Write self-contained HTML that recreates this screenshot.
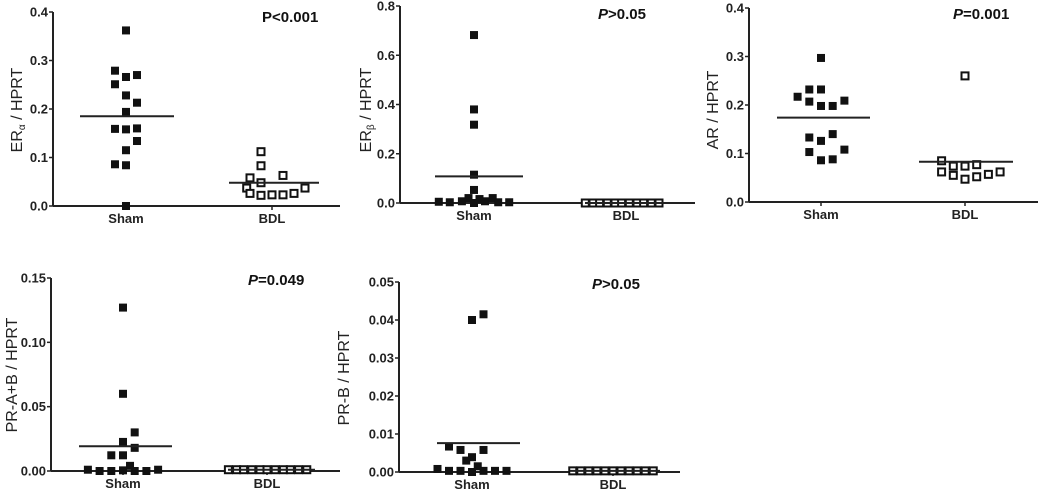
<!DOCTYPE html>
<html><head><meta charset="utf-8">
<style>
html,body{margin:0;padding:0;background:#fff;}
svg{display:block;font-family:"Liberation Sans",Arial,sans-serif;}
.tick{font-size:13px;font-weight:bold;fill:#222;}
.pv{font-size:15px;font-weight:bold;fill:#111;}
.yt{font-size:16px;fill:#222;}
</style></head>
<body>
<svg id="chart" width="1040" height="494" viewBox="0 0 1040 494"></svg>
<script>
// Panel 1: ERα
const p1Ticks = ["0.0","0.1","0.2","0.3","0.4"];
const p1TickVals = [0,0.1,0.2,0.3,0.4];
const p1Sham = [0.362,0.279,0.266,0.270,0.251,0.228,0.213,0.194,0.159,0.158,0.160,0.134,0.115,0.086,0.084,0.0];
const p1ShamSlot = [0,-1,0,1,-1,0,1,0,-1,0,1,1,0,-1,0,0];
const p1Bdl = [0.112,0.083,0.058,0.048,0.063,0.037,0.037,0.026,0.022,0.023,0.023,0.026];
const p1BdlSlot = [-1,-1,-2,-1,1,-2.3,3,-2,-1,0,1,2];
const p1Means = [0.185,0.048];
// Panel 2: ERβ
const p2Ticks = ["0.0","0.2","0.4","0.6","0.8"];
const p2TickVals = [0,0.2,0.4,0.6,0.8];
const p2Sham = [0.682,0.380,0.318,0.115,0.053,0.005,0.003,0.007,0.02,0,0.016,0.007,0.02,0.003,0.003];
const p2ShamSlot = [0,0,0,0,0,-3.2,-2.2,-1.1,-0.5,0,0.5,1,1.7,2.2,3.2];
const p2Bdl = [0,0,0,0,0,0,0,0,0,0,0];
const p2BdlSlot = [-3.7,-3.0,-2.4,-1.7,-1.0,-0.4,0.3,1.0,1.6,2.3,3.0];
const p2Means = [0.108,0.0];
// Panel 3: AR
const p3Ticks = ["0.0","0.1","0.2","0.3","0.4"];
const p3TickVals = [0,0.1,0.2,0.3,0.4];
const p3Sham = [0.297,0.232,0.232,0.217,0.207,0.198,0.198,0.209,0.133,0.126,0.140,0.103,0.108,0.086,0.088];
const p3ShamSlot = [0,-1,0,-2,-1,0,1,2,-1,0,1,-1,2,0,1];
const p3Bdl = [0.260,0.085,0.062,0.074,0.074,0.077,0.055,0.047,0.052,0.057,0.062];
const p3BdlSlot = [0,-2,-2,-1,0,1,-1,0,1,2,3];
const p3Means = [0.174,0.083];
// Panel 4: PR-A+B
const p4Ticks = ["0.00","0.05","0.10","0.15"];
const p4TickVals = [0,0.05,0.10,0.15];
const p4Sham = [0.127,0.060,0.030,0.0226,0.018,0.0122,0.0122,0.001,0,0,0.0005,0.004,0,0,0.001];
const p4ShamSlot = [0,0,1,0,1,-1,0,-3,-2,-1,0,0.6,1,2,3];
const p4Bdl = [0.001,0.001,0.001,0.001,0.001,0.001,0.001,0.001,0.001,0.001,0.001];
const p4BdlSlot = [-3.3,-2.6,-2.0,-1.3,-0.6,0,0.7,1.4,2.0,2.7,3.4];
const p4Means = [0.0192,0.001];
// Panel 5: PR-B
const p5Ticks = ["0.00","0.01","0.02","0.03","0.04","0.05"];
const p5TickVals = [0,0.01,0.02,0.03,0.04,0.05];
const p5Sham = [0.040,0.0415,0.0067,0.0058,0.0058,0.0039,0.003,0.0008,0.0003,0.0003,0,0.0015,0.0003,0.0003,0.0003];
const p5ShamSlot = [0,1,-2,-1,1,0,-0.5,-3,-2,-1,0,0.5,1,2,3];
const p5Bdl = [0.0003,0.0003,0.0003,0.0003,0.0003,0.0003,0.0003,0.0003,0.0003,0.0003,0.0003];
const p5BdlSlot = [-3.5,-2.8,-2.1,-1.4,-0.7,0,0.7,1.4,2.1,2.8,3.5];
const p5Means = [0.0076,0.0003];

const NS="http://www.w3.org/2000/svg";
const svg=document.getElementById('chart');
function mk(tag,attrs,parent){const e=document.createElementNS(NS,tag);for(const k in attrs)e.setAttribute(k,attrs[k]);(parent||svg).appendChild(e);return e;}

const panels=[
 {id:'era',ax:53,top:12,bot:206,xEnd:340,max:0.4,cx:[126,272],slotW:11,line:[[80,174],[229,319]],ticks:p1Ticks,tv:p1TickVals,sham:p1Sham,ss:p1ShamSlot,bdl:p1Bdl,bs:p1BdlSlot,means:p1Means,p:'P<0.001',pItal:false,px:262,py:22,title:['ER','α',' / HPRT'],tx:17,ty:110},
 {id:'erb',ax:400,top:6,bot:203,xEnd:695,max:0.8,cx:[474,626],slotW:11,line:[[435,523],[585,665]],ticks:p2Ticks,tv:p2TickVals,sham:p2Sham,ss:p2ShamSlot,bdl:p2Bdl,bs:p2BdlSlot,means:p2Means,p:'>0.05',pItal:true,px:598,py:19,title:['ER','β',' / HPRT'],tx:366,ty:110},
 {id:'ar',ax:749,top:8,bot:202,xEnd:1038,max:0.4,cx:[821,965],slotW:11.7,line:[[777,870],[919,1013]],ticks:p3Ticks,tv:p3TickVals,sham:p3Sham,ss:p3ShamSlot,bdl:p3Bdl,bs:p3BdlSlot,means:p3Means,p:'=0.001',pItal:true,px:953,py:19,title:['AR / HPRT'],tx:713,ty:110},
 {id:'prab',ax:51,top:278,bot:471,xEnd:340,max:0.15,cx:[123,267],slotW:11.7,line:[[79,172],[228,315]],ticks:p4Ticks,tv:p4TickVals,sham:p4Sham,ss:p4ShamSlot,bdl:p4Bdl,bs:p4BdlSlot,means:p4Means,p:'=0.049',pItal:true,px:248,py:285,title:['PR-A+B / HPRT'],tx:12,ty:375},
 {id:'prb',ax:399,top:282,bot:472,xEnd:680,max:0.05,cx:[472,613],slotW:11.5,line:[[437,520],[570,660]],ticks:p5Ticks,tv:p5TickVals,sham:p5Sham,ss:p5ShamSlot,bdl:p5Bdl,bs:p5BdlSlot,means:p5Means,p:'>0.05',pItal:true,px:592,py:289,title:['PR-B / HPRT'],tx:344,ty:378}
];

panels.forEach(P=>{
 const g=mk('g',{});
 
 
 const y=v=>P.bot-(v/P.max)*(P.bot-P.top);
 const yAx=mk('line',{x1:P.ax,y1:P.top,x2:P.ax,y2:P.bot,stroke:'#222','stroke-width':2},g);
 
 
 const xAx=mk('line',{x1:P.ax,y1:P.bot,x2:P.xEnd,y2:P.bot,stroke:'#222','stroke-width':2},g);
 
 
 P.tv.forEach((v,i)=>{
  mk('line',{x1:P.ax-4,y1:y(v),x2:P.ax,y2:y(v),stroke:'#222','stroke-width':1.5},g);
  const t=mk('text',{x:P.ax-5,y:y(v)+4.5,'text-anchor':'end',class:'tick'},g);
  t.textContent=P.ticks[i];
  
  
 });
 ['Sham','BDL'].forEach((c,i)=>{
  mk('line',{x1:P.cx[i],y1:P.bot,x2:P.cx[i],y2:P.bot+4,stroke:'#222','stroke-width':1.5},g);
  const t=mk('text',{x:P.cx[i],y:P.bot+17,'text-anchor':'middle',class:'tick'},g);
  t.textContent=c;
  
  
 });
 P.sham.forEach((v,i)=>{
  const r=mk('rect',{x:P.cx[0]+P.ss[i]*P.slotW-4,y:y(v)-4,width:8,height:8,fill:'#111'},g);
  
  
 });
 P.bdl.forEach((v,i)=>{
  const r=mk('rect',{x:P.cx[1]+P.bs[i]*P.slotW-3.5,y:y(v)-3.5,width:7,height:7,fill:'#fff',stroke:'#111','stroke-width':2},g);
  
  
 });
 P.means.forEach((m,i)=>{
  const l=mk('line',{x1:P.line[i][0],y1:y(m),x2:P.line[i][1],y2:y(m),stroke:'#222','stroke-width':2},g);
  
  
 });
 const pt=mk('text',{x:P.px,y:P.py,class:'pv'},g);
 
 
 if(P.pItal){const s=mk('tspan',{'font-style':'italic'},pt);s.textContent='P';const s2=mk('tspan',{},pt);s2.textContent=P.p;}
 else pt.textContent=P.p;
 const tt=mk('text',{x:P.tx,y:P.ty,'text-anchor':'middle',class:'yt',transform:`rotate(-90 ${P.tx} ${P.ty})`,dy:5},g);
 
 
 if(P.title.length===3){
  const a=mk('tspan',{},tt);a.textContent=P.title[0];
  const b=mk('tspan',{'font-size':'10px',dy:3},tt);b.textContent=P.title[1];
  const c=mk('tspan',{dy:-3},tt);c.textContent=P.title[2];
 } else tt.textContent=P.title[0];
});
</script>
</body></html>
